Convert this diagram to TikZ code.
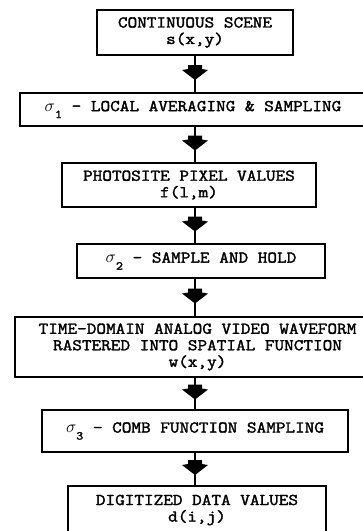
\documentclass[tikz,border=0pt]{standalone}
\usepackage{fontspec}
\setmonofont{Latin Modern Mono}[FakeBold=2, FakeStretch=1.14]
\newcommand{\stagesym}[1]{$\sigma$\raisebox{-7pt}{\fontsize{12}{12}\selectfont #1}}
\tikzset{
  box/.style={draw, line width=1.4pt, inner sep=0pt, align=center,
    font=\ttfamily\fontsize{16.4}{16.5}\selectfont},
  stem/.style={line width=2.6pt},
}
\begin{document}
\begin{tikzpicture}[x=1pt,y=-1pt]
    \useasboundingbox (0,0) rectangle (363,531);
    \clip (0,0) rectangle (363,531);
    \coordinate (spine) at (195,0);
    \node[box, minimum width=196pt, minimum height=45pt] (scene) at (195,32.5)
      {CONTINUOUS SCENE\\s(x,y)};
    \node[box, minimum width=346pt, minimum height=33pt] (avg) at (193,109.5)
      {\stagesym{1} - LOCAL AVERAGING \& SAMPLING};
    \node[box, minimum width=254pt, minimum height=44pt] (photo) at (189,185)
      {PHOTOSITE PIXEL VALUES\\f(l,m)};
    \node[box, minimum width=248pt, minimum height=34pt] (hold) at (201,261)
      {\stagesym{2} - SAMPLE AND HOLD};
    \node[box, minimum width=365pt, minimum height=60pt] (video) at (197.5,347)
      {TIME-DOMAIN ANALOG VIDEO WAVEFORM\\RASTERED INTO SPATIAL FUNCTION\\w(x,y)};
    \node[box, minimum width=306pt, minimum height=42pt] (comb) at (195,431)
      {\stagesym{3} - COMB FUNCTION SAMPLING};
    \node[box, minimum width=258pt, minimum height=48pt] (digit) at (197,510)
      {DIGITIZED DATA VALUES\\d(i,j)};
    \foreach \a/\b in {scene/avg, avg/photo, photo/hold, hold/video, video/comb, comb/digit} {
      \draw[stem] (\a.south -| spine) -- coordinate (mid) (\b.north -| spine);
      \fill[shift={(mid)}] (-7,-9) -- (7,-9) -- (7,-5) -- (13,-4) -- (0,6)
        -- (-13,-4) -- (-7,-5) -- cycle;
    }
\end{tikzpicture}
\end{document}
